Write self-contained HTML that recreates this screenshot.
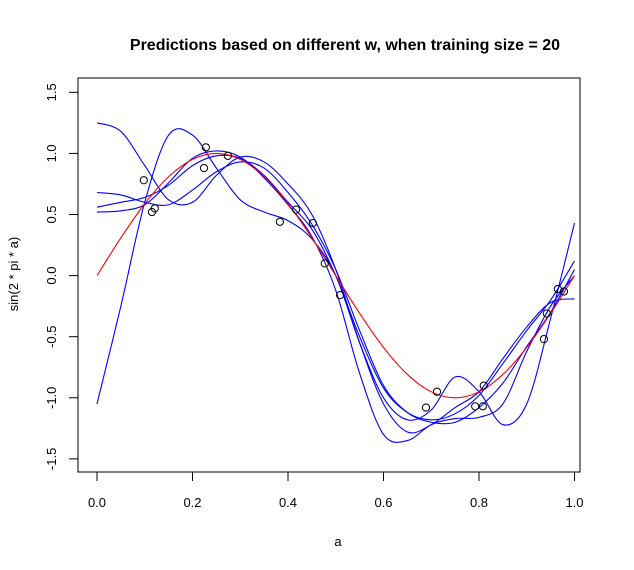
<!DOCTYPE html>
<html><head><meta charset="utf-8"><style>body{margin:0;background:#fff}svg{display:block;font-family:"Liberation Sans",Arial,sans-serif}</style></head>
<body>
<svg id="chart" width="634" height="570" xmlns="http://www.w3.org/2000/svg">
<text x="345" y="50" text-anchor="middle" font-size="16" font-weight="bold">Predictions based on different w, when training size = 20</text>
<text x="338" y="546" text-anchor="middle" font-size="13">a</text>
<text transform="translate(18,274) rotate(-90)" text-anchor="middle" font-size="13">sin(2 * pi * a)</text>
<rect x="78" y="78" width="502" height="394" fill="none" stroke="#000"/>
<g id="axes"></g><g id="series"></g><g id="points"></g>
</svg>
<script>
const xTicks=[0,0.2,0.4,0.6,0.8,1.0];
const xTickLabels=["0.0","0.2","0.4","0.6","0.8","1.0"];
const yTicks=[-1.5,-1.0,-0.5,0,0.5,1.0,1.5];
const yTickLabels=["-1.5","-1.0","-0.5","0.0","0.5","1.0","1.5"];
const pointsA=[0.098,0.115,0.121,0.224,0.228,0.274,0.383,0.417,0.452,0.477,0.509,0.712,0.689,0.792,0.808,0.810,0.936,0.942,0.965,0.978];
const pointsY=[0.78,0.52,0.55,0.88,1.05,0.98,0.44,0.54,0.43,0.10,-0.16,-0.95,-1.08,-1.07,-1.07,-0.90,-0.52,-0.31,-0.11,-0.13];
const gridA=[0,0.05,0.1,0.15,0.2,0.25,0.3,0.35,0.4,0.45,0.5,0.55,0.6,0.65,0.7,0.75,0.8,0.85,0.9,0.95,1];
const trueY=[0,0.309,0.588,0.809,0.951,1,0.951,0.809,0.588,0.309,0,-0.309,-0.588,-0.809,-0.951,-1,-0.951,-0.809,-0.588,-0.309,0];
const predA=[1.25,1.18,0.9,0.62,0.6,0.82,0.97,0.93,0.75,0.5,0.05,-0.55,-1.05,-1.28,-1.22,-1.08,-0.95,-0.68,-0.42,-0.22,-0.19];
const predB=[-1.05,-0.25,0.6,1.15,1.15,0.88,0.62,0.52,0.45,0.3,0.0,-0.55,-1.0,-1.18,-1.1,-0.83,-0.95,-1.22,-1.05,-0.35,0.43];
const predC=[0.68,0.66,0.6,0.58,0.7,0.85,0.93,0.88,0.68,0.42,0.05,-0.45,-0.9,-1.12,-1.2,-1.2,-1.08,-0.88,-0.58,-0.3,0.05];
const predD=[0.56,0.6,0.64,0.74,0.9,0.98,0.96,0.82,0.6,0.38,0.0,-0.5,-0.92,-1.12,-1.18,-1.13,-0.98,-0.72,-0.45,-0.2,0.12];
const predE=[0.52,0.53,0.58,0.76,0.96,1.02,0.97,0.8,0.58,0.32,-0.12,-0.8,-1.3,-1.35,-1.22,-1.17,-1.16,-1.05,-0.62,-0.25,0.0];

const NS="http://www.w3.org/2000/svg";
const X=a=>97+a*477.5, Y=v=>275.6-v*122.2;
function mk(tag,attrs,parent){const e=document.createElementNS(NS,tag);for(const k in attrs)e.setAttribute(k,attrs[k]);parent.appendChild(e);return e;}
const ax=document.getElementById('axes');
xTicks.forEach((t,i)=>{
  const l=mk('line',{x1:X(t),x2:X(t),y1:472,y2:481,stroke:'#000'},ax);
  
  
  const tx=mk('text',{x:X(t),y:507,'text-anchor':'middle','font-size':13},ax);tx.textContent=xTickLabels[i];
  
  
});
yTicks.forEach((t,i)=>{
  const l=mk('line',{x1:69,x2:78,y1:Y(t),y2:Y(t),stroke:'#000'},ax);
  
  
  const tx=mk('text',{transform:`translate(56,${Y(t)}) rotate(-90)`,'text-anchor':'middle','font-size':13},ax);tx.textContent=yTickLabels[i];
  
  
});
function smooth(xs,ys){
  const p=xs.map((x,i)=>[X(x),Y(ys[i])]);let d=`M${p[0][0]},${p[0][1]}`;
  for(let i=0;i<p.length-1;i++){const p0=p[i-1]||p[i],p1=p[i],p2=p[i+1],p3=p[i+2]||p2;
    d+=` C${p1[0]+(p2[0]-p0[0])/6},${p1[1]+(p2[1]-p0[1])/6} ${p2[0]-(p3[0]-p1[0])/6},${p2[1]-(p3[1]-p1[1])/6} ${p2[0]},${p2[1]}`;}
  return d;}
const sg=document.getElementById('series');
[predA,predB,predC,predD,predE].forEach((s,i)=>{
  const p=mk('path',{d:smooth(gridA,s),fill:'none',stroke:'#0000ff','stroke-width':1.1},sg);
  
  
});
const rp=mk('path',{d:smooth(gridA,trueY),fill:'none',stroke:'#ff0000','stroke-width':1.1},sg);


const pg=document.getElementById('points');
pointsA.forEach((a,i)=>{
  const c=mk('circle',{cx:X(a),cy:Y(pointsY[i]),r:3.6,fill:'none',stroke:'#000'},pg);
  
  
});
</script>
</body></html>
